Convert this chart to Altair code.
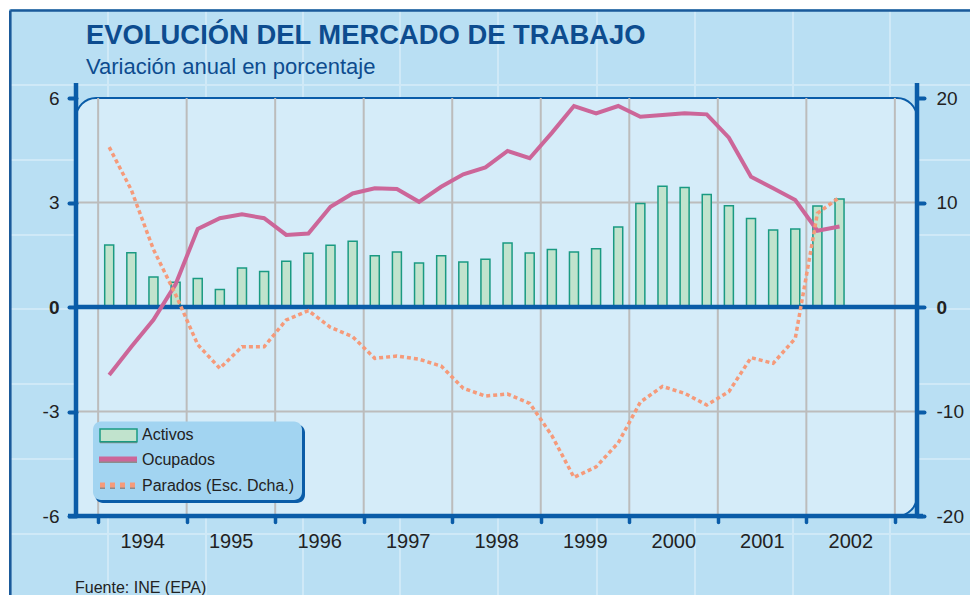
import altair as alt
import pandas as pd

# ---------------- data ----------------
periodos = [f"{a}T{t}" for a in range(1994, 2003) for t in (1, 2, 3, 4)][:34]
activos = [1.78, 1.56, 0.86, 0.71,
           0.82, 0.50, 1.12, 1.02,
           1.31, 1.54, 1.77, 1.89,
           1.47, 1.58, 1.26, 1.47,
           1.29, 1.37, 1.84, 1.55,
           1.65, 1.58, 1.67, 2.30,
           2.97, 3.47, 3.43, 3.23,
           2.91, 2.54, 2.21, 2.24,
           2.90, 3.10]
ocupados = [-1.95, -1.14, -0.37, 0.65,
            2.24, 2.55, 2.66, 2.55,
            2.07, 2.11, 2.88, 3.26,
            3.41, 3.39, 3.02, 3.45,
            3.81, 4.01, 4.48, 4.27,
            5.00, 5.77, 5.56, 5.77,
            5.46, 5.51, 5.56, 5.53,
            4.86, 3.74, 3.41, 3.07,
            2.19, 2.31]
parados = [15.3, 11.2, 5.5, 1.2,
           -3.6, -5.87, -3.8, -3.8,
           -1.24, -0.35, -1.95, -2.84,
           -4.91, -4.69, -5.0, -5.65,
           -7.78, -8.52, -8.33, -9.22,
           -12.3, -16.3, -15.3, -13.0,
           -9.1, -7.6, -8.26, -9.38,
           -8.1, -4.85, -5.39, -3.0,
           8.96, 10.5]
anios = list(range(1994, 2004))
ticks_izq = [-6, -3, 0, 3, 6]
ticks_der = [-20, -10, 0, 10, 20]
grid_h = [-3, 3]
cero = [0]

titulo = "EVOLUCIÓN DEL MERCADO DE TRABAJO"
subtitulo = "Variación anual en porcentaje"
fuente = "Fuente: INE (EPA)"
leyenda = ["Activos", "Ocupados", "Parados (Esc. Dcha.)"]

df = pd.DataFrame({"periodo": periodos, "Activos": activos,
                   "Ocupados": ocupados, "Parados": parados})
df["x"] = df["periodo"].str[:4].astype(int) + (df["periodo"].str[-1].astype(int) - 0.5) / 4

# ---------------- style ----------------
F = "Liberation Sans"
BLUE = "#0a5ca8"
TITLE_BLUE = "#0d4c8f"
BG = "#b9dff3"
PANEL = "#d5ecf9"
PATTERN = "#cfe9f7"
GRID = "#bcbcbc"
BAR_FILL = "#c1e3cd"
BAR_STROKE = "#1a9a82"
OCU = "#cc6699"
PAR = "#f59a7a"
TXT = "#222222"
LEG_BG = "#a2d4f1"

W, H = 841, 418
one = pd.DataFrame({"o": [0]})

xs = alt.Scale(domain=[1993.75, 2003.25], nice=False, zero=False, padding=0)
yl = alt.Scale(domain=[-6, 6], nice=False)
yr = alt.Scale(domain=[-20, 20], nice=False)

bold0 = {"condition": {"test": "datum.value == 0", "value": "bold"}, "value": "normal"}

axis_x = alt.Axis(values=anios, labelExpr="datum.value >= 2003 ? '' : toString(datum.value)",
                  domain=False, grid=False, tickSize=6, tickWidth=3.5, tickColor=BLUE,
                  tickCap="round", labelFont=F, labelFontSize=20, labelColor=TXT,
                  labelPadding=9, labelOffset=44, labelFlush=False, labelOverlap=False,
                  title=None, zindex=1)
axis_l = alt.Axis(values=ticks_izq, orient="left", domain=False, grid=False, tickSize=7,
                  tickWidth=4, tickColor=BLUE, tickCap="round", labelFont=F,
                  labelFontSize=19, labelColor=TXT, labelPadding=10,
                  labelExpr="toString(datum.value)",
                  labelFontWeight=bold0, title=None, zindex=1)
axis_r = alt.Axis(values=ticks_der, orient="right", domain=False, grid=False, tickSize=7,
                  tickWidth=4, tickColor=BLUE, tickCap="round", labelFont=F,
                  labelFontSize=19, labelColor=TXT, labelPadding=12,
                  labelExpr="toString(datum.value)",
                  labelFontWeight=bold0, title=None, zindex=1)


def X(field):
    return alt.X(field, scale=xs, axis=axis_x)


def hrule(x1, x2, y, color, width, dash=None):
    kw = dict(color=color, strokeWidth=width)
    if dash:
        kw["strokeDash"] = dash
    return alt.Chart(one).mark_rule(**kw).encode(
        x=alt.value(x1), x2=alt.value(x2), y=alt.value(y))


def vrule(x, y1, y2, color, width):
    return alt.Chart(one).mark_rule(color=color, strokeWidth=width).encode(
        x=alt.value(x), y=alt.value(y1), y2=alt.value(y2))


def box(x1, x2, y1, y2, **kw):
    return alt.Chart(one).mark_rect(**kw).encode(
        x=alt.value(x1), x2=alt.value(x2), y=alt.value(y1), y2=alt.value(y2))


def txt(s, x, y, size, color=TXT, weight="normal", baseline="alphabetic"):
    return alt.Chart(one).mark_text(text=s, font=F, fontSize=size, fontWeight=weight,
                                    color=color, align="left", baseline=baseline).encode(
        x=alt.value(x), y=alt.value(y))


# ---------------- background decoration ----------------
deco = []
for px in [108, 206, 303, 400, 498, 597, 695, 793, 890]:
    deco.append(vrule(px - 76, -87, 505, PATTERN, 2))
for py in [85, 160, 235, 309, 384, 459, 534]:
    deco.append(hrule(-65, 903, py - 98, PATTERN, 2))
deco.append(box(-70, -67, -90, 505, fill="white"))
deco.append(box(-70, 903, -90, -89, fill="white"))
deco.append(vrule(-65.7, -87.5, 505, "#1a5a9a", 2.6))
deco.append(hrule(-65.7, 903, -87.5, "#1a5a9a", 2.6))

panel = box(0, W, 0, H, fill=PANEL, stroke=BLUE, strokeWidth=2,
            cornerRadiusTopLeft=20, cornerRadiusTopRight=20,
            cornerRadiusBottomRight=20, cornerRadiusBottomLeft=0)

vgrid = alt.Chart(pd.DataFrame({"anio": anios})).mark_rule(color=GRID, strokeWidth=2).encode(
    x=X("anio:Q"), y=alt.value(0), y2=alt.value(H))

# ---------------- left-scale layers ----------------
hgrid = alt.Chart(pd.DataFrame({"v": grid_h})).mark_rule(color=GRID, strokeWidth=2).encode(
    y=alt.Y("v:Q", scale=yl, axis=None), x=alt.value(0), x2=alt.value(W))

bars = alt.Chart(df).mark_bar(size=9, fill=BAR_FILL, stroke=BAR_STROKE, strokeWidth=1.5).encode(
    x=X("x:Q"),
    y=alt.Y("Activos:Q", scale=yl, axis=axis_l),
    y2=alt.datum(0))

zero = alt.Chart(pd.DataFrame({"c": cero})).mark_rule(color=BLUE, strokeWidth=4.5).encode(
    y=alt.Y("c:Q", scale=yl, axis=None), x=alt.value(0), x2=alt.value(W))

ocu = alt.Chart(df).mark_line(color=OCU, strokeWidth=4).encode(
    x=X("x:Q"),
    y=alt.Y("Ocupados:Q", scale=yl, axis=None))

# ---------------- right-scale layer ----------------
par = alt.Chart(df).mark_line(color=PAR, strokeWidth=3.5, strokeDash=[4, 3]).encode(
    x=X("x:Q"),
    y=alt.Y("Parados:Q", scale=yr, axis=axis_r))

# ---------------- axis lines ----------------
axes_lines = [
    vrule(0, -15, 419, BLUE, 4.5),
    vrule(W, -15, 419, BLUE, 4.5),
    hrule(-8, W + 6, H, BLUE, 4.5),
]

# ---------------- legend ----------------
leg = [
    box(19, 229, 326.5, 405, fill=BLUE, cornerRadius=8),
    box(17, 226, 323.5, 402, fill=LEG_BG, cornerRadius=8),
    box(24, 61, 332.5, 345.2, fill="#8c8c8c"),
    box(24, 61, 331, 343.7, fill=BAR_FILL, stroke=BAR_STROKE, strokeWidth=1.5),
    hrule(23, 61, 362.5, "#8c8c8c", 5),
    hrule(23, 61, 361, OCU, 5),
    hrule(24, 61, 388.5, "#8c8c8c", 5, dash=[5, 5]),
    hrule(24, 61, 387, PAR, 5, dash=[5, 5]),
    txt(leyenda[0], 66, 336.5, 16, baseline="middle"),
    txt(leyenda[1], 66, 362, 16, baseline="middle"),
    txt(leyenda[2], 66, 388, 16, baseline="middle"),
]

texts = [
    txt(titulo, 10, -54, 27.4, color=TITLE_BLUE, weight="bold"),
    txt(subtitulo, 10, -24, 22, color=TITLE_BLUE),
    txt(fuente, -1, 494.5, 16),
]

chart = alt.layer(
    *deco, panel, vgrid, hgrid, bars, zero, ocu, par, *axes_lines, *leg, *texts
).resolve_scale(y="independent").properties(
    width=W, height=H,
    padding={"left": 68, "top": 90, "right": 53, "bottom": 79},
    autosize=alt.AutoSizeParams(type="none"),
).configure(background=BG).configure_view(strokeWidth=0)

chart.save("out.html", embed_options={"renderer": "svg", "actions": False})
